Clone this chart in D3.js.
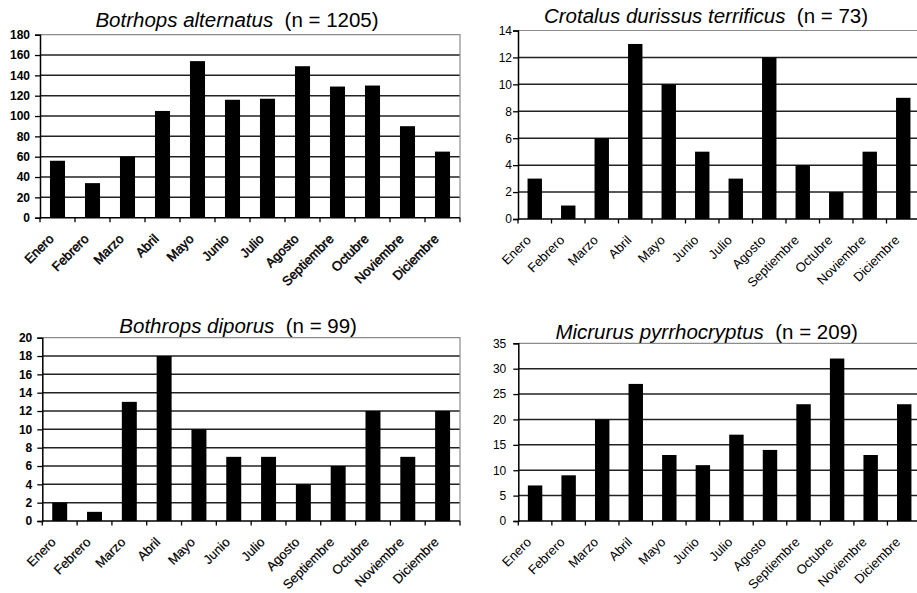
<!DOCTYPE html>
<html lang="es">
  <head>
      <meta charset="utf-8" />
      <title>Accidentes ofídicos por mes</title>
      <script type="text/javascript" src="https://cdn.jsdelivr.net/npm/d3@7/dist/d3.min.js"></script>
      <style>
        body { margin: 0; background: #fff; }
        text { font-family: Arial, "Liberation Sans", sans-serif; fill: #000; }
      </style>
  </head>

  <body>
    <script>
      var months = ["Enero", "Febrero", "Marzo", "Abril", "Mayo", "Junio", "Julio",
                    "Agosto", "Septiembre", "Octubre", "Noviembre", "Diciembre"]

      var alternatusCounts = [56, 34, 60, 105, 154, 116, 117, 149, 129, 130, 90, 65]
      var terrificusCounts = [3, 1, 6, 13, 10, 5, 3, 12, 4, 2, 5, 9]
      var diporusCounts = [2, 1, 13, 18, 10, 7, 7, 4, 6, 12, 7, 12]
      var pyrrhocryptusCounts = [7, 9, 20, 27, 13, 11, 17, 14, 23, 32, 13, 23]

      var speciesNames = ["Botrhops alternatus", "Crotalus durissus terrificus",
                          "Bothrops diporus", "Micrurus pyrrhocryptus"]
      var sampleSizes = ["1205", "73", "99", "209"]
      var yMax = [180, 14, 20, 35]
      var yStep = [20, 2, 2, 5]

      var panels = [
        {counts: alternatusCounts, left: 40, right: 460, top: 34.7, bottom: 217.7, titleY: 27, labelGap: 10, boldY: true, heavyX: 0.45},
        {counts: terrificusCounts, left: 518, right: 920, top: 30.5, bottom: 219, titleY: 23, labelGap: 6, boldY: false, heavyX: 0},
        {counts: diporusCounts, left: 42.3, right: 460, top: 337.7, bottom: 521, titleY: 333, labelGap: 10, boldY: true, heavyX: 0.2},
        {counts: pyrrhocryptusCounts, left: 518.3, right: 921, top: 343.3, bottom: 521, titleY: 339, labelGap: 12, boldY: false, heavyX: 0}
      ]

      var svg = d3.select("body")
                  .append("svg")
                  .attr("width", 917)
                  .attr("height", 593)

      svg.append("rect")
         .attr("width", 917)
         .attr("height", 593)
         .attr("fill", "#fff")

      panels.forEach(function(p, k) {
        var xScale = d3.scaleBand()
                       .domain(months)
                       .range([p.left, p.right])
                       .paddingInner(0.57)
                       .paddingOuter(0.285)
        var yScale = d3.scaleLinear()
                       .domain([0, yMax[k]])
                       .range([p.bottom, p.top])
        var ticks = d3.range(0, yMax[k] + yStep[k] / 2, yStep[k])

        var g = svg.append("g")

        // horizontal grid
        g.selectAll(".grid")
         .data(ticks.filter(function(t) { return t > 0 && t < yMax[k] }))
         .enter()
         .append("line")
           .attr("x1", p.left)
           .attr("x2", p.right)
           .attr("y1", function(d) { return yScale(d) })
           .attr("y2", function(d) { return yScale(d) })
           .attr("stroke", "#222")
           .attr("stroke-width", 1.5)

        // frame top and right
        g.append("path")
         .attr("d", "M" + p.left + "," + yScale(yMax[k]) + "H" + p.right + "V" + p.bottom)
         .attr("fill", "none")
         .attr("stroke", "#8c8c8c")
         .attr("stroke-width", 1.2)

        g.selectAll(".bar")
         .data(p.counts)
         .enter()
         .append("rect")
           .attr("x", function(d, i) { return xScale(months[i]) })
           .attr("y", function(d) { return yScale(d) })
           .attr("width", xScale.bandwidth())
           .attr("height", function(d) { return p.bottom - yScale(d) })
           .attr("fill", "#000")

        var yAxis = g.append("g")
                     .attr("transform", "translate(" + p.left + ",0)")
                     .call(d3.axisLeft(yScale)
                             .tickValues(ticks)
                             .tickSize(5)
                             .tickPadding(p.labelGap - 5)
                             .tickFormat(d3.format("d")))
        yAxis.select(".domain").attr("stroke", "#000").attr("stroke-width", 1.5)
        yAxis.selectAll(".tick line").attr("stroke", "#000").attr("stroke-width", 1.3)
        yAxis.selectAll(".tick text")
             .style("font-size", "12px")
             .style("font-weight", p.boldY ? "bold" : "normal")
             .attr("fill", "#000")

        var step = xScale.step()
        var boundaries = d3.range(0, months.length + 1).map(function(i) { return p.left + i * step })

        g.append("line")
         .attr("x1", p.left)
         .attr("x2", p.right)
         .attr("y1", p.bottom)
         .attr("y2", p.bottom)
         .attr("stroke", "#000")
         .attr("stroke-width", 1.6)

        g.selectAll(".xtick")
         .data(boundaries)
         .enter()
         .append("line")
           .attr("x1", function(d) { return d })
           .attr("x2", function(d) { return d })
           .attr("y1", p.bottom)
           .attr("y2", p.bottom + 4.5)
           .attr("stroke", "#000")
           .attr("stroke-width", 1.3)

        g.selectAll(".xlabel")
         .data(months)
         .enter()
         .append("text")
           .attr("transform", function(d) {
             return "translate(" + (xScale(d) + xScale.bandwidth() / 2 - 3) + "," + (p.bottom + 22) + ") rotate(-45)"
           })
           .attr("text-anchor", "end")
           .style("font-size", "13px")
           .style("stroke", "#000")
           .style("stroke-width", p.heavyX)
           .text(function(d) { return d })

        var title = g.append("text")
                     .attr("x", (p.left + p.right) / 2 - 13)
                     .attr("y", p.titleY)
                     .attr("text-anchor", "middle")
                     .style("font-size", "20.5px")
                     .style("white-space", "pre")
        title.append("tspan")
             .style("font-style", "italic")
             .text(speciesNames[k])
        title.append("tspan")
             .text("  (n = " + sampleSizes[k] + ")")
      })
    </script>
  </body>
</html>
